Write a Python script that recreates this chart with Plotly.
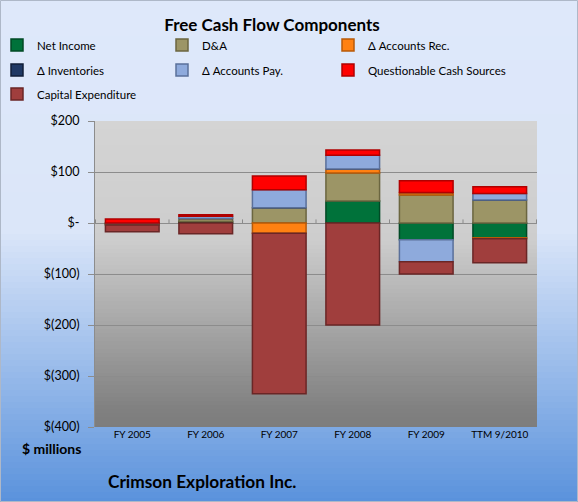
import plotly.graph_objects as go

# ---------------- data ----------------
categories = ["FY 2005", "FY 2006", "FY 2007", "FY 2008", "FY 2009", "TTM 9/2010"]
net_income = [-2, 3, 0, 43, -33, -29]
d_and_a = [-2, 6, 30, 55, 55, 45]
accounts_rec = [0, 0, -20, 8, 5, -2]
inventories = [0, 0, 0, 0, 0, 0]
accounts_pay = [0, 4, 35, 27, -43, 13]
questionable = [8, 3, 27, 10, 23, 13]
capex = [-13, -21, -315, -200, -24, -47]

y_tick_vals = [200, 100, 0, -100, -200, -300, -400]
y_tick_text = ["$200", "$100", "$-", "$(100)", "$(200)", "$(300)", "$(400)"]

series_names = ["Net Income", "D&A", "Δ Accounts Rec.", "Δ Inventories",
                "Δ Accounts Pay.", "Questionable Cash Sources", "Capital Expenditure"]
series_values = [net_income, d_and_a, accounts_rec, inventories,
                 accounts_pay, questionable, capex]

# ---------------- styles ----------------
fill_colors = ["#00723A", "#9C9566", "#FF8112", "#1F3864", "#8EAADC", "#FF0000", "#A03E3D"]
edge_colors = ["#004A25", "#6B6640", "#B85A08", "#101E38", "#5A709A", "#B00000", "#6A2626"]
# legend slot (column, row) of each series
legend_slots = [(0, 0), (1, 0), (2, 0), (0, 1), (1, 1), (2, 1), (0, 2)]
legend_col_px = [-3, 162, 328]
legend_row_px = [45, 70, 94]

W, H = 578, 502
L, R, T, B = 95, 41, 121, 75
PW, PH = W - L - R, H - T - B


def px_x(px):
    return (px - L) / PW


def px_y(py):
    return (H - B - py) / PH


def lerp_color(stops, py):
    for (y0, c0), (y1, c1) in zip(stops, stops[1:]):
        if y0 <= py <= y1:
            t = (py - y0) / (y1 - y0) if y1 > y0 else 0
            return "rgb(%d,%d,%d)" % tuple(round(a + (b - a) * t) for a, b in zip(c0, c1))
    c = stops[-1][1] if py > stops[-1][0] else stops[0][1]
    return "rgb(%d,%d,%d)" % c


shapes = []
# figure background gradient
fig_stops = [(0, (222, 232, 250)), (230, (219, 230, 249)), (502, (90, 146, 220))]
step = 6
for y in range(0, H, step):
    shapes.append(dict(type="rect", xref="paper", yref="paper", layer="below",
                       x0=px_x(0), x1=px_x(W), y0=px_y(y + step + 0.6), y1=px_y(y),
                       fillcolor=lerp_color(fig_stops, y + step / 2), line=dict(width=0)))
# plot area gradient
plot_stops = [(121, (212, 212, 212)), (240, (205, 205, 205)), (410, (128, 128, 128)), (427, (125, 125, 125))]
step = 4
for y in range(T, H - B, step):
    y2 = min(y + step + 0.6, H - B)
    shapes.append(dict(type="rect", xref="paper", yref="paper", layer="below",
                       x0=0, x1=1, y0=px_y(y2), y1=px_y(y),
                       fillcolor=lerp_color(plot_stops, y + step / 2), line=dict(width=0)))
# category separators on the zero line
for i in range(len(categories) + 1):
    shapes.append(dict(type="line", xref="x", yref="y", layer="below",
                       x0=i - 0.5, x1=i - 0.5, y0=0, y1=7,
                       line=dict(color="#8A8A8A", width=1)))
# figure border
shapes.append(dict(type="rect", xref="paper", yref="paper", layer="above",
                   x0=px_x(0.5), x1=px_x(W - 0.5), y0=px_y(H - 0.5), y1=px_y(0.5),
                   line=dict(color="#AEB8C8", width=1), fillcolor="rgba(0,0,0,0)"))

FONT = "Lato"

fig = go.Figure()
legend_layouts = {}
for i, (name, vals) in enumerate(zip(series_names, series_values)):
    key = "legend" if i == 0 else "legend%d" % (i + 1)
    col, row = legend_slots[i]
    legend_layouts[key] = dict(
        orientation="v", xref="paper", yref="paper",
        x=px_x(legend_col_px[col]), y=px_y(legend_row_px[row]),
        xanchor="left", yanchor="middle", bgcolor="rgba(0,0,0,0)",
        itemwidth=30, font=dict(family=FONT, size=11.5, color="#000000"))
    fig.add_trace(go.Bar(
        x=categories, y=vals, name=name, legend=key, showlegend=True,
        marker=dict(color=fill_colors[i], line=dict(color=edge_colors[i], width=1.5)),
    ))

fig.update_layout(
    width=W, height=H,
    showlegend=True,
    margin=dict(l=L, r=R, t=T, b=B, pad=0, autoexpand=False),
    paper_bgcolor="#DEE8F9",
    plot_bgcolor="rgba(0,0,0,0)",
    barmode="relative",
    bargap=0.27,
    font=dict(family=FONT, color="#000000"),
    title=dict(text="<b>Free Cash Flow Components</b>", x=272 / W, xanchor="center",
               y=1 - 25 / H, yanchor="middle", yref="container",
               font=dict(family=FONT, size=17, color="#000000")),
    xaxis=dict(showgrid=False, showline=False, ticks="", zeroline=False,
               tickfont=dict(family=FONT, size=10, color="#000000")),
    yaxis=dict(range=[-400, 200], tickvals=y_tick_vals, ticktext=y_tick_text,
               showgrid=True, gridcolor="#8C8C8C", gridwidth=1,
               zeroline=True, zerolinecolor="#8C8C8C", zerolinewidth=1,
               showline=True, linecolor="#8C8C8C", linewidth=1,
               ticks="outside", ticklen=6, tickcolor="#8C8C8C",
               ticklabelstandoff=6,
               tickfont=dict(family=FONT, size=12.5, color="#000000")),
    shapes=shapes,
    annotations=[
        dict(text="<b>$ millions</b>", xref="paper", yref="paper",
             x=px_x(83), y=px_y(448), xanchor="right", yanchor="middle",
             showarrow=False, font=dict(family=FONT, size=14, color="#000000")),
        dict(text="<b>Crimson Exploration Inc.</b>", xref="paper", yref="paper",
             x=px_x(106), y=px_y(481), xanchor="left", yanchor="middle",
             showarrow=False, font=dict(family=FONT, size=17.3, color="#000000")),
    ],
)
fig.update_layout(**legend_layouts)

fig.write_html("out.html",
               config={"displayModeBar": False},
               post_script="document.body.style.margin='0';document.body.style.overflow='hidden';")
